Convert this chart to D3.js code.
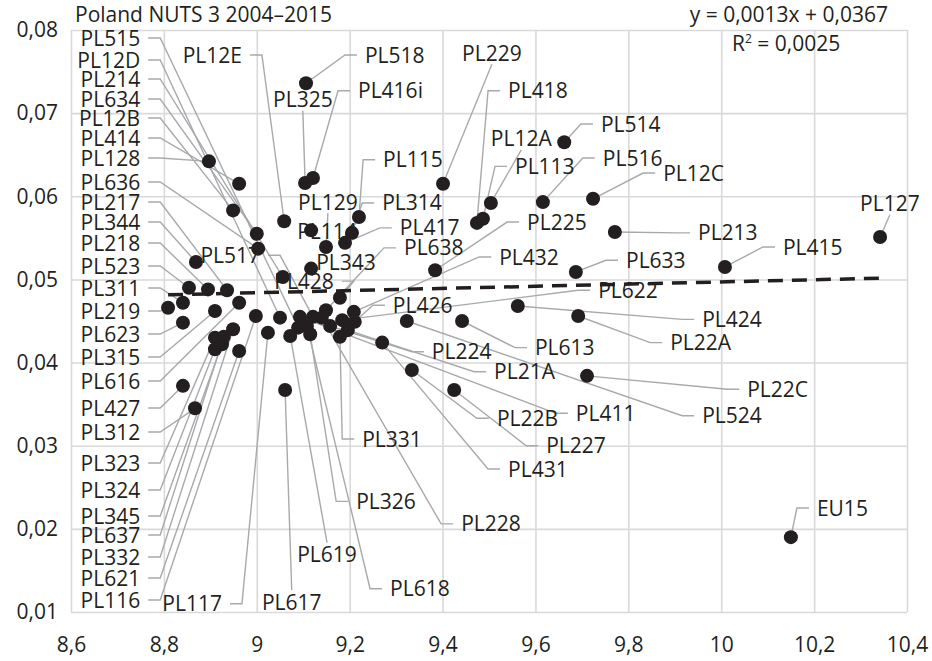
<!DOCTYPE html>
<html>
<head>
<meta charset="utf-8">
<script src="https://cdn.jsdelivr.net/npm/d3@7"></script>
<style>
  body { margin: 0; background: #fff; }
  text { font-family: "Open Sans", sans-serif; fill: #231f20; }
</style>
</head>
<body>
<div id="chart"></div>
<script>
// Regions (NUTS 3) and their values
const names = [
  "PL515","PL12D","PL214","PL634","PL12B","PL414","PL128","PL636","PL217","PL344",
  "PL218","PL523","PL311","PL219","PL623","PL315","PL616","PL427","PL312","PL323",
  "PL324","PL345","PL637","PL332","PL621","PL116",
  "PL12E","PL518","PL325","PL416i","PL129","PL114","PL115","PL314","PL417","PL343",
  "PL517","PL428","PL638","PL229","PL418","PL113","PL12A","PL514","PL516","PL12C",
  "PL225","PL432","PL213","PL633","PL415","PL127","PL622","PL426","PL424","PL22A",
  "PL613","PL224","PL21A","PL22C","PL524","PL411","PL22B","PL227","PL431","PL331",
  "PL326","PL228","PL618","PL619","PL617","PL117","EU15"
];
const xValues = [
  9.089, 9.050, 9.056, 9.000, 8.949, 8.962, 8.897, 9.003, 8.936, 8.869,
  8.895, 8.854, 8.841, 8.809, 8.841, 8.910, 8.962, 8.841, 8.867, 8.910,
  8.910, 8.925, 8.929, 8.949, 8.962, 8.998,
  9.059, 9.106, 9.104, 9.121, 9.149, 9.117, 9.220, 9.205, 9.190, 9.117,
  9.121, 9.179, 9.149, 9.401, 9.474, 9.487, 9.504, 9.662, 9.616, 9.724,
  9.384, 9.209, 9.771, 9.687, 10.008, 10.342, 9.184, 9.211, 9.562, 9.692,
  9.442, 9.158, 9.196, 9.711, 9.323, 9.093, 9.334, 9.425, 9.270, 9.179,
  9.115, 9.140, 9.108, 9.072, 9.061, 9.024, 10.150
];
const yValues = [
  0.0442, 0.0454, 0.0503, 0.0555, 0.0583, 0.0615, 0.0642, 0.0537, 0.0487, 0.0521,
  0.0488, 0.0490, 0.0472, 0.0466, 0.0448, 0.0462, 0.0472, 0.0372, 0.0345, 0.0430,
  0.0416, 0.0422, 0.0431, 0.0440, 0.0414, 0.0456,
  0.0570, 0.0736, 0.0616, 0.0622, 0.0539, 0.0559, 0.0575, 0.0556, 0.0544, 0.0513,
  0.0455, 0.0478, 0.0463, 0.0615, 0.0568, 0.0573, 0.0592, 0.0665, 0.0593, 0.0597,
  0.0511, 0.0461, 0.0557, 0.0509, 0.0515, 0.0551, 0.0451, 0.0449, 0.0468, 0.0456,
  0.0450, 0.0444, 0.0439, 0.0384, 0.0450, 0.0455, 0.0391, 0.0367, 0.0424, 0.0431,
  0.0434, 0.0454, 0.0444, 0.0432, 0.0367, 0.0436, 0.0190
];

const xTicks = [8.6, 8.8, 9.0, 9.2, 9.4, 9.6, 9.8, 10.0, 10.2, 10.4];
const yTicks = [0.01, 0.02, 0.03, 0.04, 0.05, 0.06, 0.07, 0.08];
const trendCoef = [0.0013, 0.0367];   // slope, intercept
const rSquared = 0.0025;
const title = "Poland NUTS 3 2004–2015";

// Label placement, in data units (same order as names)
const labelX = [
  8.749, 8.749, 8.749, 8.749, 8.749, 8.749, 8.749, 8.749, 8.749, 8.749,
  8.749, 8.749, 8.749, 8.749, 8.749, 8.749, 8.749, 8.749, 8.749, 8.749,
  8.749, 8.749, 8.749, 8.749, 8.749, 8.749,
  8.968, 9.233, 9.035, 9.218, 9.089, 9.087, 9.272, 9.270, 9.308, 9.128,
  9.007, 9.166, 9.317, 9.442, 9.541, 9.556, 9.504, 9.741, 9.745, 9.875,
  9.582, 9.522, 9.950, 9.795, 10.133, 10.299, 9.735, 9.293, 9.959, 9.890,
  9.599, 9.377, 9.511, 10.056, 9.959, 9.687, 9.517, 9.623, 9.541, 9.227,
  9.214, 9.440, 9.287, 9.087, 9.011, 8.925, 10.206
];
const labelY = [
  0.07904, 0.07639, 0.07411, 0.07170, 0.06942, 0.06701, 0.06460, 0.06172, 0.05931, 0.05691,
  0.05438, 0.05161, 0.04897, 0.04620, 0.04343, 0.04067, 0.03778, 0.03453, 0.03165, 0.02792,
  0.02467, 0.02154, 0.01926, 0.01661, 0.01409, 0.01144,
  0.0770, 0.0770, 0.0716, 0.0727, 0.0593, 0.0558, 0.0644, 0.0592, 0.0562, 0.0521,
  0.0529, 0.0498, 0.0538, 0.0772, 0.0727, 0.0636, 0.0669, 0.0687, 0.0646, 0.0628,
  0.0569, 0.0527, 0.0556, 0.0523, 0.0539, 0.0591, 0.0487, 0.0469, 0.0452, 0.0424,
  0.0418, 0.0413, 0.0389, 0.0368, 0.0336, 0.0339, 0.0333, 0.0300, 0.0272, 0.0308,
  0.0233, 0.0206, 0.0128, 0.0169, 0.0112, 0.0110, 0.0225
];
// R: label left of its leader, L: label right of it, B/T: leader from bottom/top, N: none
const labelSide = [
  "R","R","R","R","R","R","R","R","R","R","R","R","R","R","R","R","R","R","R","R",
  "R","R","R","R","R","R",
  "R","L","B","L","B","N","L","L","L","N",
  "R","R","L","B","L","L","B","L","L","L",
  "L","L","L","L","L","B","L","L","L","L",
  "L","L","L","L","L","L","L","L","L","L",
  "L","L","L","T","T","R","L"
];

const points = names.map((n, i) => ({
  name: n, x: xValues[i], y: yValues[i],
  lx: labelX[i], ly: labelY[i], side: labelSide[i]
}));

const width = 932, height = 661;
const margin = { top: 30, right: 25, bottom: 49, left: 71 };
const plotW = width - margin.left - margin.right;
const plotH = height - margin.top - margin.bottom;
const fontSize = 21;

const locale = d3.formatLocale({ decimal: ",", thousands: " ", grouping: [3], currency: ["", ""] });
const fmtX = v => locale.format(".1f")(v).replace(/,0$/, "");
const fmtY = locale.format(".2f");
const fmt4 = locale.format(".4f");

const xScale = d3.scaleLinear().domain([8.6, 10.4]).range([margin.left, margin.left + plotW]);
const yScale = d3.scaleLinear().domain([0.01, 0.08]).range([margin.top + plotH, margin.top]);

const svg = d3.select('#chart').append('svg')
  .attr('width', width)
  .attr('height', height);

// Axes + gridlines
const xAxisG = svg.append('g')
  .attr('transform', `translate(0,${margin.top + plotH})`)
  .call(d3.axisBottom(xScale).tickValues(xTicks).tickFormat(fmtX)
    .tickSize(-plotH).tickPadding(25));
const yAxisG = svg.append('g')
  .attr('transform', `translate(${margin.left},0)`)
  .call(d3.axisLeft(yScale).tickValues(yTicks).tickFormat(fmtY)
    .tickSize(-plotW).tickPadding(13));

[xAxisG, yAxisG].forEach(g => {
  g.select('.domain').remove();
  g.selectAll('.tick line').attr('stroke', '#d9d9d9').attr('stroke-width', 1.6);
  g.selectAll('.tick text')
    .attr('font-family', '"Open Sans", sans-serif')
    .attr('font-size', fontSize)
    .attr('fill', '#231f20');
});

// Labels are measured first so leader lines can attach to them
const labelG = svg.append('g').attr('class', 'labels');
const leaderG = svg.insert('g', '.labels').attr('class', 'leaders');

labelG.selectAll('text')
  .data(points)
  .join('text')
  .attr('x', d => xScale(d.lx))
  .attr('y', d => yScale(d.ly))
  .attr('dy', '0.36em')
  .attr('font-size', fontSize)
  .attr('text-anchor', d => d.side === 'R' ? 'end' : 'start')
  .text(d => d.name)
  .each(function (d) { d.w = this.getComputedTextLength(); });

const leaderPath = d => {
  const lx = xScale(d.lx), ly = yScale(d.ly);
  const px = xScale(d.x), py = yScale(d.y);
  if (d.side === 'R') return `M${lx + 8},${ly}H${lx + 20}L${px},${py}`;
  if (d.side === 'L') return `M${lx - 8},${ly}H${lx - 20}L${px},${py}`;
  if (d.side === 'B') return `M${lx + d.w / 2},${ly + 11}L${px},${py}`;
  if (d.side === 'T') return `M${lx + d.w / 2},${ly - 12}L${px},${py}`;
  return null;
};

leaderG.selectAll('path')
  .data(points.filter(d => d.side !== 'N'))
  .join('path')
  .attr('d', leaderPath)
  .attr('fill', 'none')
  .attr('stroke', '#a7a9ac')
  .attr('stroke-width', 1.4);

// Dots
svg.insert('g', '.labels')
  .selectAll('circle')
  .data(points)
  .join('circle')
  .attr('cx', d => xScale(d.x))
  .attr('cy', d => yScale(d.y))
  .attr('r', 7)
  .attr('fill', '#231f20');

// Linear trend over the data range
const xExt = d3.extent(xValues);
const trendLine = d3.line().x(d => xScale(d)).y(d => yScale(trendCoef[0] * d + trendCoef[1]));
svg.insert('path', '.labels')
  .datum(xExt)
  .attr('d', trendLine)
  .attr('fill', 'none')
  .attr('stroke', '#231f20')
  .attr('stroke-width', 3.5)
  .attr('stroke-dasharray', '15,9');

// Title and equation
svg.append('text')
  .attr('x', 75).attr('y', 22)
  .attr('font-size', fontSize)
  .text(title);

svg.append('text')
  .attr('x', 888).attr('y', 22)
  .attr('text-anchor', 'end')
  .attr('font-size', fontSize)
  .text(`y = ${fmt4(trendCoef[0])}x + ${fmt4(trendCoef[1])}`);

const r2 = svg.append('text')
  .attr('x', 732).attr('y', 51)
  .attr('font-size', fontSize);
r2.append('tspan').text('R');
r2.append('tspan').attr('font-size', 12).attr('dy', -8).text('2');
r2.append('tspan').attr('dy', 8).text(` = ${fmt4(rSquared)}`);
</script>
</body>
</html>
